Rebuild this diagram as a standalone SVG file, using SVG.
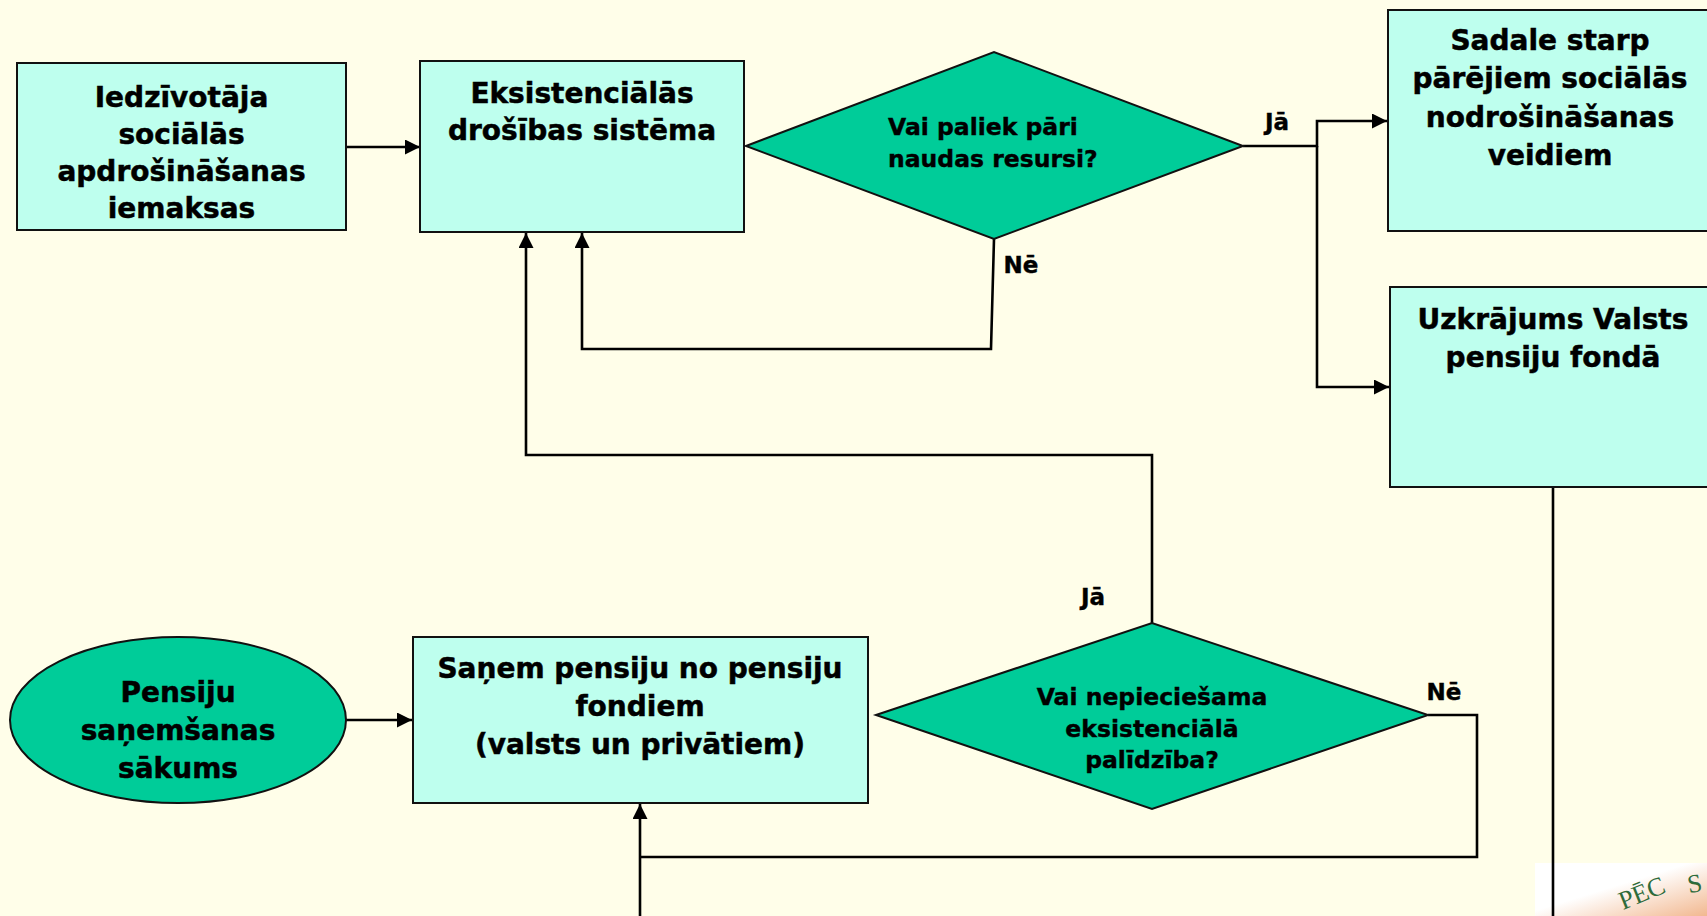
<svg xmlns="http://www.w3.org/2000/svg" width="1707" height="916" viewBox="0 0 1707 916">
<defs>
<style>
.box{fill:#BEFFEE;stroke:#111;stroke-width:2}
.dia{fill:#00CC99;stroke:#111;stroke-width:2}
.t{font-family:"DejaVu Sans","Verdana",sans-serif;font-weight:bold;font-size:28px;fill:#000;stroke:#000;stroke-width:0.5;text-anchor:middle}
.td{font-family:"DejaVu Sans","Verdana",sans-serif;font-weight:bold;font-size:23.5px;fill:#000;stroke:#000;stroke-width:0.4;text-anchor:middle}
.lb{font-family:"DejaVu Sans","Verdana",sans-serif;font-weight:bold;font-size:23px;fill:#000;stroke:#000;stroke-width:0.4;text-anchor:middle}
.wt{font-family:"Liberation Serif",serif;font-size:26px;fill:#2E6B3A;text-anchor:middle}
.c{fill:none;stroke:#000;stroke-width:2.6}
.ca{fill:none;stroke:#000;stroke-width:2.6;marker-end:url(#ah)}
</style>
<marker id="ah" markerUnits="userSpaceOnUse" markerWidth="16" markerHeight="16" refX="15" refY="7.5" orient="auto">
<path d="M0,0 L15,7.5 L0,15 z" fill="#000"/>
</marker>
<linearGradient id="wm" x1="0" y1="0" x2="1" y2="1">
<stop offset="0" stop-color="#FFFFFF"/>
<stop offset="0.45" stop-color="#FFFFFF"/>
<stop offset="1" stop-color="#F2B890"/>
</linearGradient>
</defs>
<rect x="0" y="0" width="1707" height="916" fill="#FFFEE9"/>

<g id="watermark">
<rect x="1535" y="863" width="172" height="53" fill="url(#wm)"/>
<text class="wt" x="1645" y="901" transform="rotate(-22 1645 901)">PĒC</text>
<text class="wt" x="1696" y="892" transform="rotate(-10 1696 892)">S</text>
</g>

<g id="connectors">
<path class="ca" d="M346,147 L420,147"/>
<path class="ca" d="M1243,146 L1317,146 L1317,121 L1387,121"/>
<path class="ca" d="M1317,146 L1317,387 L1389,387"/>
<path class="ca" d="M994,239 L991,349 L582,349 L582,233"/>
<path class="ca" d="M1152,623 L1152,455 L526,455 L526,233"/>
<path class="c" d="M1428,715 L1477,715 L1477,857 L640,857"/>
<path class="ca" d="M640,916 L640,804"/>
<path class="ca" d="M346,720 L412,720"/>
<path class="c" d="M1553,487 L1553,916"/>
</g>

<g id="n1">
<rect class="box" x="17" y="63" width="329" height="167"/>
<text class="t" x="181.5" y="107">Iedzīvotāja</text>
<text class="t" x="181.5" y="144">sociālās</text>
<text class="t" x="181.5" y="181">apdrošināšanas</text>
<text class="t" x="181.5" y="218">iemaksas</text>
</g>

<g id="n2">
<rect class="box" x="420" y="61" width="324" height="171"/>
<text class="t" x="582" y="103">Eksistenciālās</text>
<text class="t" x="582" y="140">drošības sistēma</text>
</g>

<g id="d1">
<polygon class="dia" points="746,146 994,52 1243,146 994,239"/>
<text class="td" x="888" y="135" style="text-anchor:start">Vai paliek pāri</text>
<text class="td" x="888" y="167" style="text-anchor:start">naudas resursi?</text>
</g>

<g id="n3">
<rect class="box" x="1388" y="10" width="340" height="221"/>
<text class="t" x="1550" y="50">Sadale starp</text>
<text class="t" x="1550" y="88">pārējiem sociālās</text>
<text class="t" x="1550" y="127">nodrošināšanas</text>
<text class="t" x="1550" y="165">veidiem</text>
</g>

<g id="n4">
<rect class="box" x="1390" y="287" width="340" height="200"/>
<text class="t" x="1553" y="329">Uzkrājums Valsts</text>
<text class="t" x="1553" y="367">pensiju fondā</text>
</g>

<g id="n5">
<ellipse cx="178" cy="720" rx="168" ry="83" fill="#00CC99" stroke="#111" stroke-width="2"/>
<text class="t" x="178" y="702">Pensiju</text>
<text class="t" x="178" y="740">saņemšanas</text>
<text class="t" x="178" y="778">sākums</text>
</g>

<g id="n6">
<rect class="box" x="413" y="637" width="455" height="166"/>
<text class="t" x="640" y="678">Saņem pensiju no pensiju</text>
<text class="t" x="640" y="716">fondiem</text>
<text class="t" x="640" y="754">(valsts un privātiem)</text>
</g>

<g id="d2">
<polygon class="dia" points="876,715 1152,623 1428,715 1152,809"/>
<text class="td" x="1152" y="705">Vai nepieciešama</text>
<text class="td" x="1152" y="737">eksistenciālā</text>
<text class="td" x="1152" y="768">palīdzība?</text>
</g>

<g id="labels">
<text class="lb" x="1277" y="130">Jā</text>
<text class="lb" x="1021" y="273">Nē</text>
<text class="lb" x="1093" y="605">Jā</text>
<text class="lb" x="1444" y="700">Nē</text>
</g>
</svg>
